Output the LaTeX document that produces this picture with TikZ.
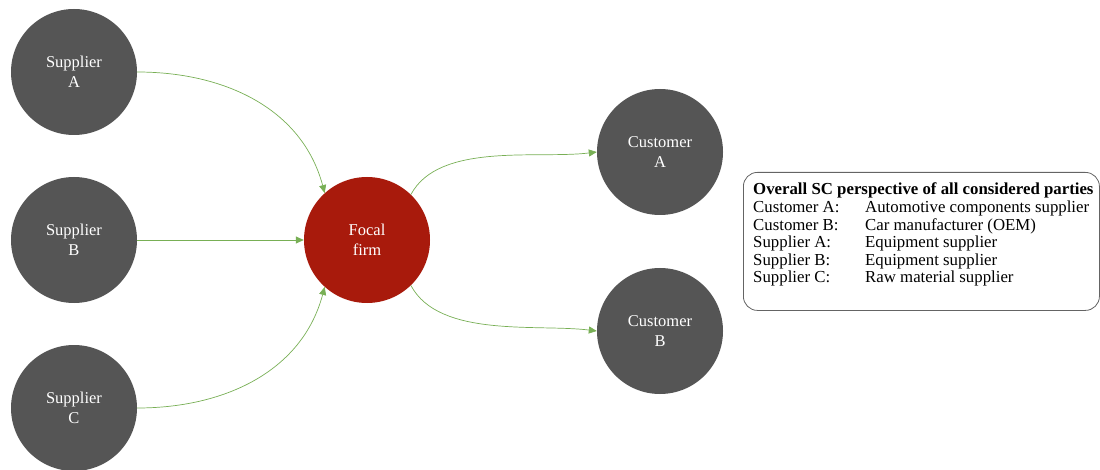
\documentclass[tikz,border=0pt]{standalone}
\usepackage{fontspec}
\setmainfont{Liberation Serif}
\usetikzlibrary{arrows.meta}
\definecolor{nodegray}{RGB}{85,85,85}
\definecolor{focalred}{RGB}{168,26,12}
\definecolor{arrgreen}{RGB}{120,175,85}
\definecolor{boxgray}{RGB}{100,100,100}
\begin{document}
\begin{tikzpicture}[x=1pt,y=-1pt,
  party/.style={circle, fill=nodegray, minimum size=126pt, inner sep=0pt, text=white, align=center, font=\fontsize{16.5}{20}\selectfont},
  focal/.style={party, fill=focalred},
  arr/.style={draw=arrgreen, line width=0.7pt, -{Triangle[length=8pt,width=7pt]}},
  legendbox/.style={draw=boxgray, line width=0.8pt, rounded corners=14pt}
]
\useasboundingbox (0,0) rectangle (1100,470);
\node[party] (sa) at (74,72) {Supplier\\A};
\node[party] (sb) at (74,240) {Supplier\\B};
\node[party] (sc) at (74,408) {Supplier\\C};
\node[focal] (ff) at (367,240) {Focal\\firm};
\node[party] (ca) at (660,152) {Customer\\A};
\node[party] (cb) at (660,331) {Customer\\B};

\draw[arr] (sa.east) to[out=0,in=105] (ff.132);
\draw[arr] (sb.east) -- (ff.west);
\draw[arr] (sc.east) to[out=0,in=-105] (ff.228);
\draw[arr] (ff.46) to[out=62,in=187,looseness=0.8] (ca.west);
\draw[arr] (ff.-46) to[out=-62,in=173,looseness=0.8] (cb.west);

\node[legendbox, anchor=north west, minimum width=356pt, minimum height=138pt] (lb) at (743,172) {};
\node[anchor=base west, inner sep=0pt, font=\fontsize{16.8}{17.6}\selectfont] (lt) at (753,195) {%
\begin{tabular}[t]{@{}p{112pt}@{}l@{}}
\multicolumn{2}{@{}l@{}}{\textbf{Overall SC perspective of all considered parties}}\\
Customer A: & Automotive components supplier\\
Customer B: & Car manufacturer (OEM)\\
Supplier A: & Equipment supplier\\
Supplier B: & Equipment supplier\\
Supplier C: & Raw material supplier
\end{tabular}};
\end{tikzpicture}
\end{document}
